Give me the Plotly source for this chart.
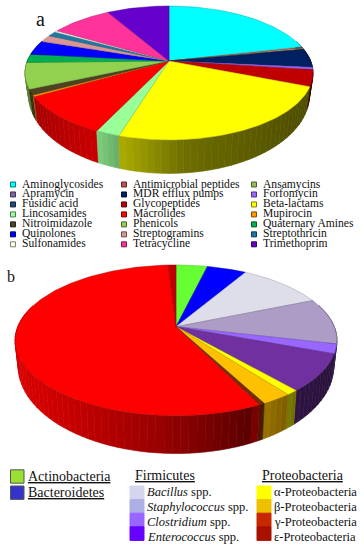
import numpy as np
import plotly.graph_objects as go

# ---------- panel a data (share of slices, clockwise from 12 o'clock) ----------
a_slices = ["Aminoglycosides", "Antimicrobial peptides", "Ansamycins", "MDR efflux pumps", "Forfomycin",
            "Glycopeptides", "Beta-lactams", "Lincosamides", "Macrolides", "Mupirocin", "Nitroimidazole",
            "Phenicols", "Quaternary Amines", "Quinolones", "Streptogramins", "Streptothricin",
            "Sulfonamides", "Tetracycline", "Trimethoprim"]
a_values = [21.3, 0.36, 0.33, 4.53, 0.56, 3.94, 23.7, 2.29, 9.64, 0.36, 1.33, 6.3, 2.03, 3.47, 1.69, 1.25, 0.36, 8.22, 8.3]
a_colors = ["#00FFFF", "#C0504D", "#9BBB59", "#002060", "#9966FF", "#C00000", "#FFFF00", "#99FF99", "#FF0000",
            "#FF9900", "#4D4222", "#92D050", "#00B050", "#0000FF", "#D99694", "#1F77A4", "#FFFFE8", "#FF3399", "#6600CC"]
a_legend_cols = [
    ["Aminoglycosides", "Apramycin", "Fusidic acid", "Lincosamides", "Nitroimidazole", "Quinolones", "Sulfonamides"],
    ["Antimicrobial peptides", "MDR efflux pumps", "Glycopeptides", "Macrolides", "Phenicols", "Streptogramins", "Tetracycline"],
    ["Ansamycins", "Forfomycin", "Beta-lactams", "Mupirocin", "Quaternary Amines", "Streptothricin", "Trimethoprim"],
]
a_legend_extra = {"Apramycin": "#8064A2", "Fusidic acid": "#1F497D"}

# ---------- panel b data ----------
b_slices = ["Actinobacteria", "Bacteroidetes", "Bacillus spp.", "Staphylococcus spp.", "Clostridium spp.",
            "Enterococcus spp.", "α-Proteobacteria", "β-Proteobacteria", "other", "γ-Proteobacteria", "ε-Proteobacteria"]
b_values = [3.75, 4.72, 10.25, 9.9, 2.03, 7.94, 1.03, 2.58, 0.5, 56.3, 0.9]
b_colors = ["#66FF33", "#0000FF", "#DEDEEA", "#AC9CC6", "#9966FF", "#7030A0", "#FFFF00", "#FFC000", "#7A2A00", "#FF0000", "#C00000"]
b_top_groups = ["Actinobacteria", "Bacteroidetes"]
b_top_colors = ["#99E033", "#3333CC"]
firm_labels = ["<i>Bacillus</i> spp.", "<i>Staphylococcus</i> spp.", "<i>Clostridium</i> spp.", "<i>Enterococcus</i> spp."]
firm_colors = ["#D5D5F0", "#AEAEE6", "#9966FF", "#6600FF"]
prot_labels = ["α-Proteobacteria", "β-Proteobacteria", "γ-Proteobacteria", "ε-Proteobacteria"]
prot_colors = ["#FFFF00", "#EFC000", "#C82800", "#A81000"]

SERIF = "Liberation Serif"
fig = go.Figure()


def rgb(hexc, f=1.0):
    h = hexc.lstrip("#")
    return "rgb(%d,%d,%d)" % tuple(min(255, int(int(h[i:i + 2], 16) * f)) for i in (0, 2, 4))


def pie3d(values, colors, names, ax, ay, R, S, k, d0, dslope, xscale, shade_x, shade_v):
    vals = np.array(values, float)
    edges = np.concatenate([[0], np.cumsum(vals)]) / vals.sum() * 360

    def rim(al):
        th = np.radians(al)
        u, v = np.sin(th), np.cos(th)
        w = 1 + k * v
        return ax + R * u / w, ay - S * v / w

    segs = []
    for i in range(len(vals)):
        n = max(1, int(np.ceil((edges[i + 1] - edges[i]) / 2.5)))
        grid = np.linspace(edges[i], edges[i + 1], n + 1)
        for a0, a1 in zip(grid[:-1], grid[1:]):
            if np.cos(np.radians((a0 + a1) / 2)) < 0.3:
                segs.append((a0, a1, colors[i]))
    segs.sort(key=lambda s: rim((s[0] + s[1]) / 2)[1])
    for a0, a1, col in segs:
        xt, yt = rim(np.array([a0, a1]))
        yb = yt + d0 + (yt - ay) * dslope
        xb = ax + (xt - ax) * xscale
        c = rgb(col, float(np.interp(xt.mean(), shade_x, shade_v)))
        fig.add_trace(go.Scatter(x=[xt[0], xt[1], xb[1], xb[0], xt[0]], y=[yt[0], yt[1], yb[1], yb[0], yt[0]],
                                 mode="lines", fill="toself", fillcolor=c, line=dict(color=c, width=0.6),
                                 hoverinfo="skip", showlegend=False))
    for i in range(len(vals)):
        n = max(3, int((edges[i + 1] - edges[i]) / 1.0))
        xs, ys = rim(np.linspace(edges[i], edges[i + 1], n))
        fig.add_trace(go.Scatter(x=np.r_[ax, xs, ax], y=np.r_[ay, ys, ay], mode="lines", fill="toself",
                                 fillcolor=rgb(colors[i]), line=dict(color=rgb(colors[i], 0.72), width=0.5),
                                 name=names[i], hoverinfo="name", showlegend=False))


pie3d(a_values, a_colors, a_slices, 169, 61, 141.7, 64.85, 0.179, 20, 0.17, 0.975,
      [25, 40, 100, 118, 185, 283, 313], [0.6, 0.68, 0.8, 0.68, 0.43, 0.33, 0.3])
pie3d(b_values, b_colors, b_slices, 176, 326.7, 158.3, 72.9, 0.181, 24, 0.155, 0.98,
      [15, 60, 160, 250, 262, 300, 338], [0.85, 0.8, 0.6, 0.36, 0.62, 0.42, 0.36])

shapes, annos = [], []


def label(x, y, text, size, color="#111111"):
    annos.append(dict(x=x, y=y, text=text, xref="x", yref="y", xanchor="left", yanchor="middle", showarrow=False,
                      align="left", borderpad=0, borderwidth=0, font=dict(family=SERIF, size=size, color=color)))


def swatch(x0, y0, x1, y1, col, edge):
    shapes.append(dict(type="rect", xref="x", yref="y", x0=x0, y0=y0, x1=x1, y1=y1, fillcolor=col,
                       line=dict(color=edge, width=1)))


label(36, 19, "a", 20)
label(7, 276, "b", 16)

a_lookup = dict(zip(a_slices, a_colors))
a_lookup.update(a_legend_extra)
for cx, col_names in zip([13, 124, 254], a_legend_cols):
    for r, nm in enumerate(col_names):
        yc = 184.5 + r * 9.97
        c = a_lookup[nm]
        swatch(cx - 2.5, yc - 2.5, cx + 2.5, yc + 2.5, c, rgb(c, 0.5))
        label(cx + 9, yc - 0.5, nm, 11.6)

for i, (nm, c) in enumerate(zip(b_top_groups, b_top_colors)):
    yc = 476.5 + i * 16.2
    swatch(10.5, yc - 6.7, 24, yc + 6.7, c, "#555555")
    label(28, yc - 0.5, "<u>%s</u>" % nm, 14)

label(135, 475.7, "<u>Firmicutes</u>", 14)
label(262, 475.7, "<u>Proteobacteria</u>", 14)
for i in range(4):
    y0 = 486 + i * 13.6
    swatch(130, y0, 144, y0 + 13.6, firm_colors[i], firm_colors[i])
    swatch(257, y0, 271, y0 + 13.6, prot_colors[i], prot_colors[i])
    label(146.5, 491.7 + i * 15.1, firm_labels[i], 12.5)
    label(273.5, 491.7 + i * 15.1, prot_labels[i], 12.5)

fig.update_layout(width=364, height=550, margin=dict(l=0, r=0, t=0, b=0), paper_bgcolor="white", plot_bgcolor="white",
                  autosize=False, showlegend=False, shapes=shapes, annotations=annos,
                  xaxis=dict(range=[0, 364], visible=False, fixedrange=True),
                  yaxis=dict(range=[550, 0], visible=False, fixedrange=True))
fig.write_html("out.html", config={"displayModeBar": False},
               post_script="document.body.style.margin='0';document.body.style.overflow='hidden';")
